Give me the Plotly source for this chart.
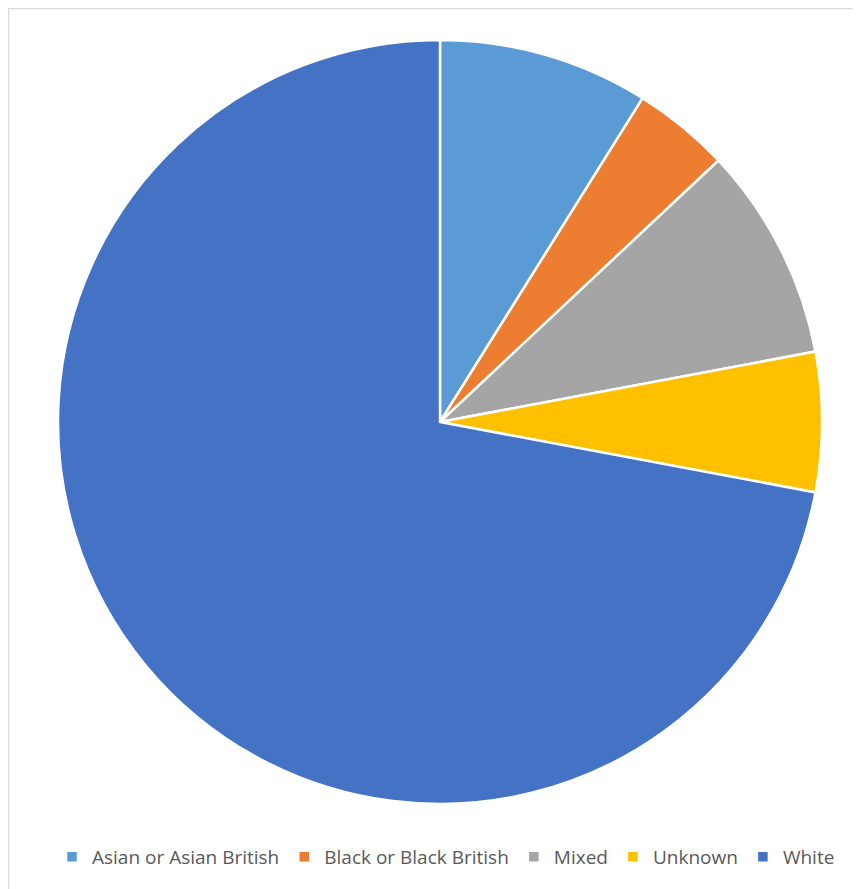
import plotly.graph_objects as go

categories = ["Asian or Asian British", "Black or Black British", "Mixed", "Unknown", "White"]
values = [8.9, 4.1, 9.05, 5.9, 72.05]
colors = ["#5B9BD5", "#ED7D31", "#A5A5A5", "#FFC000", "#4472C4"]

W, H = 861, 889
off = 8  # page body margin
cx, cy, r = 440 - off, 422 - off, 382

fig = go.Figure(go.Pie(
    labels=categories, values=values, sort=False, direction="clockwise", rotation=0,
    marker=dict(colors=colors, line=dict(color="white", width=2.5)),
    textinfo="none", hoverinfo="label+percent",
    domain=dict(x=[(cx - r) / W, (cx + r) / W], y=[(H - cy - r) / H, (H - cy + r) / H]),
))
fig.update_layout(
    width=W, height=H, margin=dict(l=0, r=0, t=0, b=0),
    paper_bgcolor="white", plot_bgcolor="white",
    showlegend=True,
    legend=dict(orientation="h", x=(446 - off) / W, xanchor="center", y=(H - 857 + off) / H, yanchor="middle",
                font=dict(family="Open Sans", size=19, color="#595959"),
                itemwidth=30, tracegroupgap=0),
    shapes=[dict(type="rect", xref="paper", yref="paper", x0=0.5 / W, x1=1.05, y0=-0.05, y1=(H - 0.5) / H,
                 line=dict(color="#D9D9D9", width=1.5))],
)
fig.write_html("out.html")
